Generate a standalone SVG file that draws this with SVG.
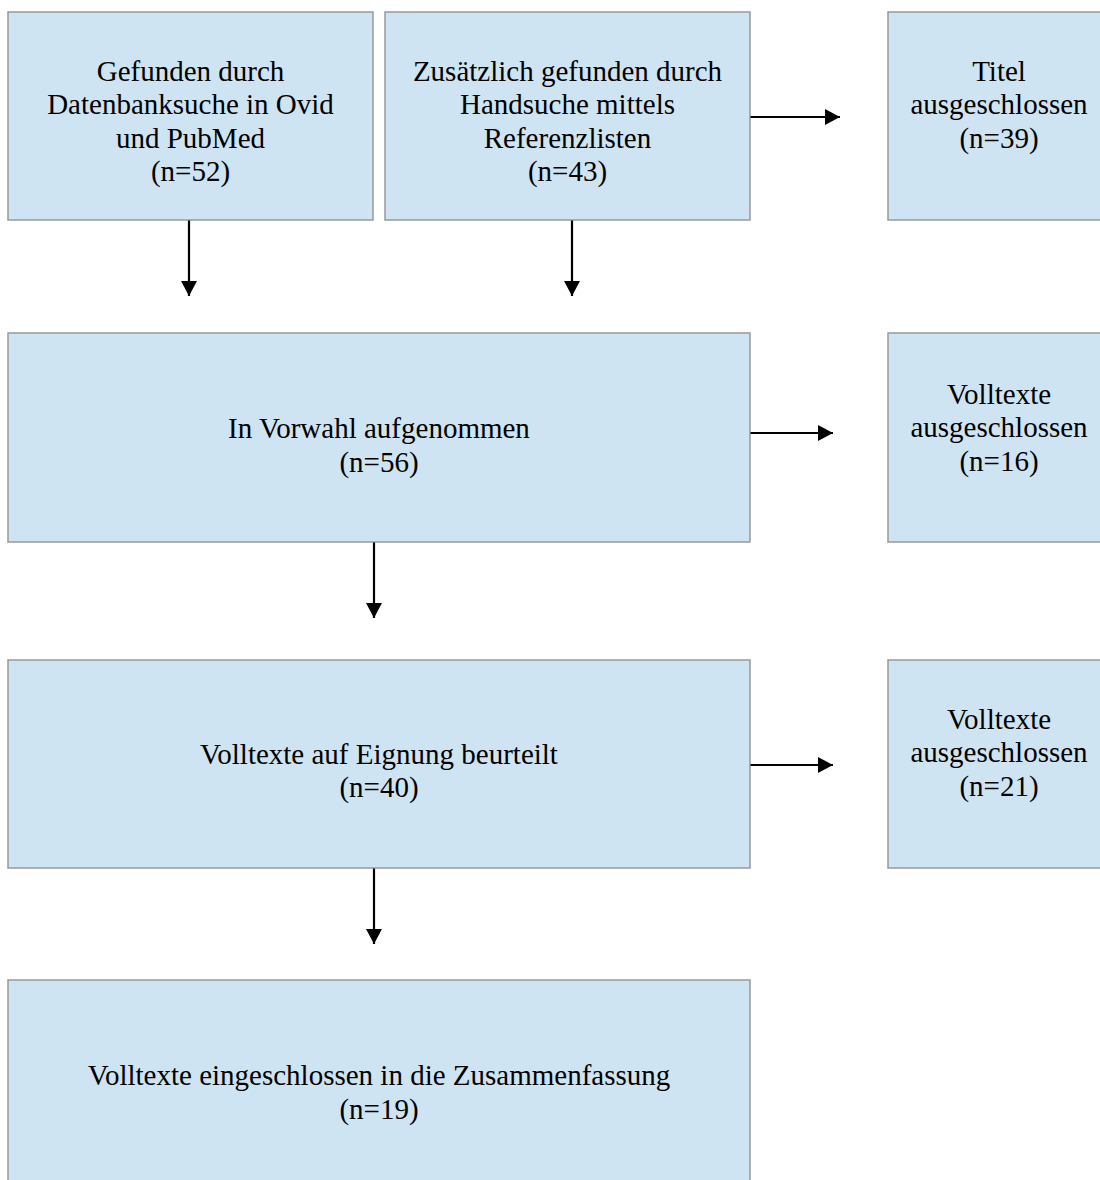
<svg xmlns="http://www.w3.org/2000/svg" width="1100" height="1180" viewBox="0 0 1100 1180">
<style>
.box{fill:#cfe4f2;stroke:#999999;stroke-width:1.5}
.t{font-family:"Liberation Serif","Times New Roman",serif;font-size:29px;fill:#000;text-anchor:middle}
.c{stroke:#000;stroke-width:2.2;fill:none}
</style>
<defs>
<marker id="ah" viewBox="0 0 15 16" refX="15" refY="8" markerWidth="15" markerHeight="16" markerUnits="userSpaceOnUse" orient="auto">
<path d="M0,0 L15,8 L0,16 Z" fill="#000"/>
</marker>
</defs>
<rect width="1100" height="1180" fill="#fff"/>
<g id="n1">
<rect class="box" x="8" y="12" width="365" height="208"/>
<text class="t" x="190.5" y="80.5">Gefunden durch</text>
<text class="t" x="190.5" y="114">Datenbanksuche in Ovid</text>
<text class="t" x="190.5" y="147.5">und PubMed</text>
<text class="t" x="190.5" y="181">(n=52)</text>
</g>
<g id="n2">
<rect class="box" x="385" y="12" width="365" height="208"/>
<text class="t" x="567.5" y="80.5">Zusätzlich gefunden durch</text>
<text class="t" x="567.5" y="114">Handsuche mittels</text>
<text class="t" x="567.5" y="147.5">Referenzlisten</text>
<text class="t" x="567.5" y="181">(n=43)</text>
</g>
<g id="n3">
<rect class="box" x="888" y="12" width="230" height="208"/>
<text class="t" x="999" y="80.5">Titel</text>
<text class="t" x="999" y="114">ausgeschlossen</text>
<text class="t" x="999" y="147.5">(n=39)</text>
</g>
<g id="n4">
<rect class="box" x="8" y="333" width="742" height="209"/>
<text class="t" x="379" y="438">In Vorwahl aufgenommen</text>
<text class="t" x="379" y="472">(n=56)</text>
</g>
<g id="n5">
<rect class="box" x="888" y="333" width="230" height="209"/>
<text class="t" x="999" y="403.5">Volltexte</text>
<text class="t" x="999" y="437">ausgeschlossen</text>
<text class="t" x="999" y="470.5">(n=16)</text>
</g>
<g id="n6">
<rect class="box" x="8" y="660" width="742" height="208"/>
<text class="t" x="379" y="763.5">Volltexte auf Eignung beurteilt</text>
<text class="t" x="379" y="797">(n=40)</text>
</g>
<g id="n7">
<rect class="box" x="888" y="660" width="230" height="208"/>
<text class="t" x="999" y="728.5">Volltexte</text>
<text class="t" x="999" y="762">ausgeschlossen</text>
<text class="t" x="999" y="795.5">(n=21)</text>
</g>
<g id="n8">
<rect class="box" x="8" y="980" width="742" height="220"/>
<text class="t" x="379" y="1085">Volltexte eingeschlossen in die Zusammenfassung</text>
<text class="t" x="379" y="1119">(n=19)</text>
</g>
<g id="connectors">
<line class="c" x1="189" y1="220.5" x2="189" y2="296" marker-end="url(#ah)"/>
<line class="c" x1="572" y1="220.5" x2="572" y2="296" marker-end="url(#ah)"/>
<line class="c" x1="750.5" y1="117" x2="840" y2="117" marker-end="url(#ah)"/>
<line class="c" x1="374" y1="542.5" x2="374" y2="618" marker-end="url(#ah)"/>
<line class="c" x1="750.5" y1="433" x2="833" y2="433" marker-end="url(#ah)"/>
<line class="c" x1="750.5" y1="765" x2="833" y2="765" marker-end="url(#ah)"/>
<line class="c" x1="374" y1="868.5" x2="374" y2="944" marker-end="url(#ah)"/>
</g>
</svg>
